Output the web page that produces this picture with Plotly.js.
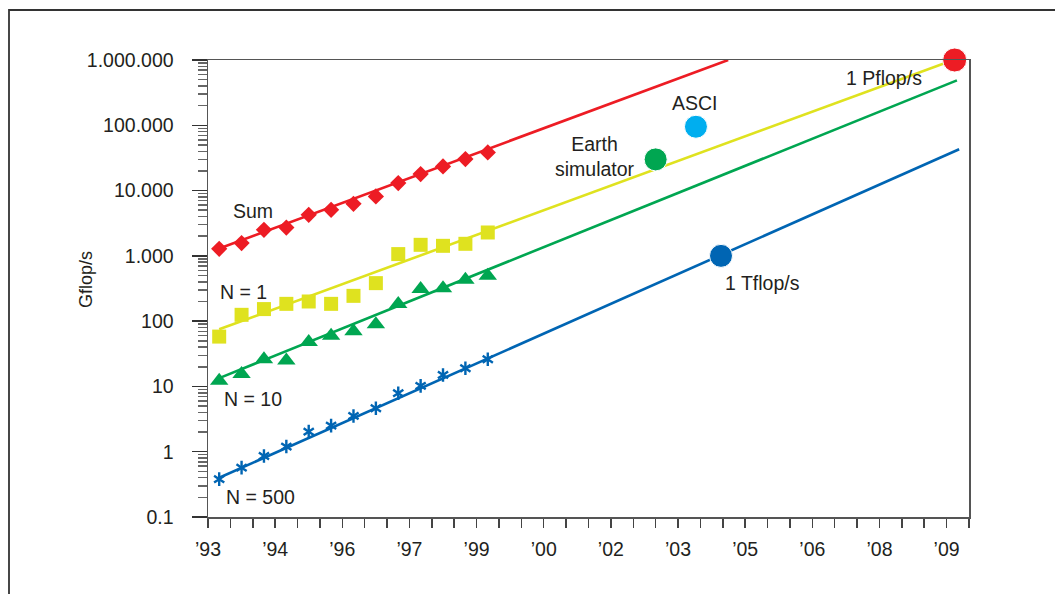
<!DOCTYPE html>
<html>
<head>
<meta charset="utf-8">
<script src="https://cdn.plot.ly/plotly-3.0.1.min.js"></script>
<style>
  html, body { margin: 0; padding: 0; background: #fff; }
  #chart { width: 1055px; height: 594px; }
</style>
</head>
<body>
<div id="chart"></div>
<script>
// TOP500 performance development, half-yearly lists 1993-1999 (Gflop/s)
const listDates = [1993.25, 1993.75, 1994.25, 1994.75, 1995.25, 1995.75, 1996.25,
                   1996.75, 1997.25, 1997.75, 1998.25, 1998.75, 1999.25];
const sumGflops  = [1282, 1567, 2506, 2718, 4256, 5078, 6278, 8123, 13030, 17910, 23400, 30400, 38370];
const n1Gflops   = [58, 125, 153, 184, 200, 184, 244, 382, 1064, 1476, 1425, 1530, 2280];
const n10Gflops  = [12.2, 15.5, 26, 25, 48, 60, 70, 90, 183, 310, 320, 430, 495];
const n500Gflops = [0.38, 0.57, 0.86, 1.2, 2.03, 2.51, 3.53, 4.63, 7.87, 10.2, 15.0, 19.0, 26.1];
const seriesNames = ['Sum', 'N = 1', 'N = 10', 'N = 500'];

// Extrapolated exponential trends: start and end of each fitted line
const sumTrendX  = [1993.25, 2004.62];
const sumTrendY  = [1300, 1000000];
const n1TrendX   = [1993.25, 2009.65];
const n1TrendY   = [75, 1000000];
const n10TrendX  = [1993.25, 2009.73];
const n10TrendY  = [13.4, 487000];
const n500TrendX = [1993.25, 2009.78];
const n500TrendY = [0.4, 43000];

// Landmark systems and milestones
const landmarkNames = ['Earth<br>simulator', 'ASCI', '1 Pflop/s', '1 Tflop/s'];
const landmarkX = [2003.0, 2003.9, 2009.68, 2004.46];
const landmarkY = [30000, 95000, 1000000, 1000];

// Axis ticks
const yTickVals = [0.1, 1, 10, 100, 1000, 10000, 100000, 1000000];
const yTickText = ['0.1', '1', '10', '100', '1.000', '10.000', '100.000', '1.000.000'];
const xTickVals = [1993, 1994.5, 1996, 1997.5, 1999, 2000.5, 2002, 2003.5, 2005, 2006.5, 2008, 2009.5];
const xTickText = ['\u201993', '\u201994', '\u201996', '\u201997', '\u201999', '\u201900',
                   '\u201902', '\u201903', '\u201905', '\u201906', '\u201908', '\u201909'];

const FONT = '"Liberation Sans", Arial, sans-serif';
const FS = 19.5;
const TEXT = '#231f20';
const RED = '#ed1c24', YELLOW = '#dfe21f', GREEN = '#00a651', BLUE = '#0065b3', CYAN = '#00aeef';

function trend(x, y, color) {
  return { x: x, y: y, type: 'scatter', mode: 'lines', hoverinfo: 'skip',
           line: { color: color, width: 2.6 }, showlegend: false };
}
function points(y, symbol, size, color) {
  return { x: listDates, y: y, type: 'scatter', mode: 'markers', showlegend: false,
           marker: { symbol: symbol, size: size, color: color, opacity: 1,
                     line: { width: symbol.endsWith('open') ? 2.4 : 0, color: color } } };
}

const traces = [
  trend(sumTrendX, sumTrendY, RED),
  trend(n1TrendX, n1TrendY, YELLOW),
  trend(n10TrendX, n10TrendY, GREEN),
  trend(n500TrendX, n500TrendY, BLUE),
  points(sumGflops, 'diamond', 12.5, RED),
  points(n1Gflops, 'square', 14, YELLOW),
  points(n10Gflops, 'triangle-up', 16, GREEN),
  // six-armed star drawn as two overlaid Y shapes
  points(n500Gflops, 'y-up-open', 8.5, BLUE),
  points(n500Gflops, 'y-down-open', 8.5, BLUE),
  { x: landmarkX, y: landmarkY, type: 'scatter', mode: 'markers', showlegend: false,
    cliponaxis: false,
    marker: { symbol: 'circle', size: [23, 23, 24, 23], opacity: 1,
              color: [GREEN, CYAN, RED, BLUE] } }
];

// Text labels: positions in data coordinates (log10 on the y axis)
const seriesLabelPos = [[1994.0, 4818], [1993.79, 281], [1994.01, 6.32], [1994.18, 0.206]];
const landmarkLabelPos = [[2001.65, 33600], [2003.89, 221800], [2008.11, 526000], [2005.38, 379]];

const annotations = [];
seriesNames.forEach((t, i) => annotations.push({
  text: t, x: seriesLabelPos[i][0], y: Math.log10(seriesLabelPos[i][1]),
  xref: 'x', yref: 'y', showarrow: false, font: { family: FONT, size: FS, color: TEXT }
}));
landmarkNames.forEach((t, i) => annotations.push({
  text: t, x: landmarkLabelPos[i][0], y: Math.log10(landmarkLabelPos[i][1]),
  xref: 'x', yref: 'y', showarrow: false, font: { family: FONT, size: FS, color: TEXT }
}));

const W = 1055, H = 594;
const margin = { l: 208, r: 86, t: 60, b: 77, pad: 0 };
const pw = W - margin.l - margin.r, ph = H - margin.t - margin.b;
const px2x = p => (p - margin.l) / pw;
const px2y = p => (H - margin.b - p) / ph;

annotations.push({
  text: 'Gflop/s', textangle: -90, xref: 'paper', yref: 'paper',
  x: px2x(74), y: px2y(280), showarrow: false,
  font: { family: FONT, size: 18, color: TEXT }
});

const layout = {
  width: W, height: H, margin: margin,
  paper_bgcolor: '#fff', plot_bgcolor: '#fff',
  font: { family: FONT, size: FS, color: TEXT },
  xaxis: {
    range: [1993, 2010], tickmode: 'array', tickvals: xTickVals, ticktext: xTickText,
    ticks: 'outside', ticklen: 9, tickwidth: 1.5, tickcolor: '#444',
    showline: true, mirror: true, linecolor: '#555', linewidth: 1.5,
    showgrid: false, zeroline: false, ticklabelstandoff: 5,
    tickfont: { family: FONT, size: FS, color: TEXT },
    minor: { ticks: 'outside', ticklen: 9, tickwidth: 1.5, tickcolor: '#444',
             dtick: 0.5, tick0: 1993, showgrid: false }
  },
  yaxis: {
    type: 'log', range: [-1, 6], tickmode: 'array', tickvals: yTickVals, ticktext: yTickText,
    ticks: 'outside', ticklen: 15, tickwidth: 1.5, tickcolor: '#333',
    showline: true, mirror: true, linecolor: '#555', linewidth: 1.5,
    showgrid: false, zeroline: false, ticklabelstandoff: 14,
    tickfont: { family: FONT, size: FS, color: TEXT },
    minor: { ticks: 'outside', ticklen: 9, tickwidth: 1.5, tickcolor: '#666',
             dtick: 'D1', showgrid: false }
  },
  shapes: [{
    type: 'path', xref: 'paper', yref: 'paper',
    path: 'M ' + px2x(9) + ' ' + px2y(H + 5) + ' L ' + px2x(9) + ' ' + px2y(10) +
          ' L ' + px2x(W + 5) + ' ' + px2y(10),
    line: { color: '#333', width: 1.8 }
  }],
  annotations: annotations,
  showlegend: false
};

Plotly.newPlot('chart', traces, layout, { displayModeBar: false, staticPlot: true });
</script>
</body>
</html>
